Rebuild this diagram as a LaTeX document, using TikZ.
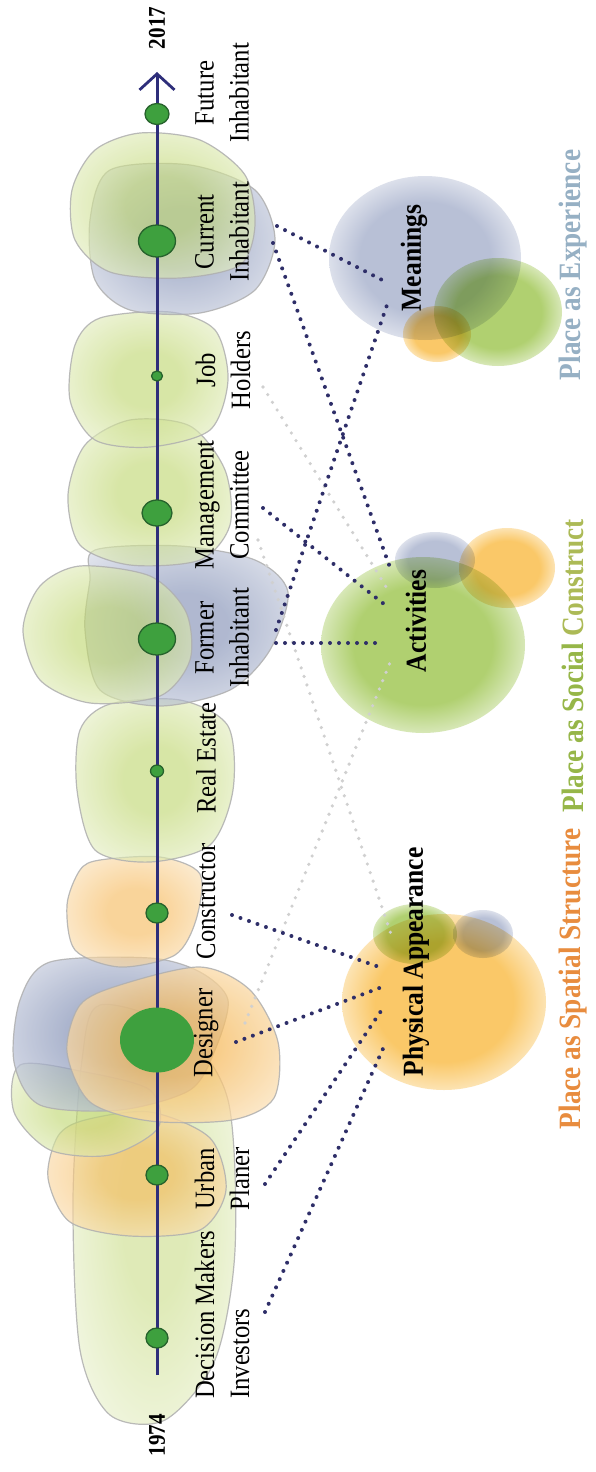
\documentclass[tikz,border=0pt]{standalone}
\usepackage{fontspec}
\setmainfont{Liberation Serif}[FakeStretch=0.88]
\usetikzlibrary{shapes.geometric,arrows.meta}

\definecolor{navy}{RGB}{46,46,122}
\definecolor{dotgreen}{RGB}{62,160,62}
\definecolor{dotedge}{RGB}{38,98,44}
\definecolor{bgreen}{RGB}{192,215,112}
\definecolor{borange}{RGB}{246,186,92}
\definecolor{bblue}{RGB}{128,142,180}
\definecolor{blobline}{RGB}{175,175,175}
\definecolor{linkblue}{RGB}{46,46,104}
\definecolor{linkgray}{RGB}{208,208,208}
\definecolor{expcol}{RGB}{150,176,196}
\definecolor{soccol}{RGB}{150,182,72}
\definecolor{soccol2}{RGB}{172,186,86}
\definecolor{spacol}{RGB}{232,140,62}
\definecolor{cgreen}{RGB}{176,208,112}
\definecolor{corange}{RGB}{250,200,104}
\definecolor{cblue}{RGB}{184,192,214}

% fills of the outlined blobs along the timeline (rim of the path is near 34bp)
\pgfdeclareradialshading{greenblob}{\pgfpointorigin}{color(0bp)=(bgreen); color(10bp)=(bgreen); color(33bp)=(bgreen!30!white); color(50bp)=(bgreen!30!white)}
\pgfdeclareradialshading{orangeblob}{\pgfpointorigin}{color(0bp)=(borange); color(10bp)=(borange); color(33bp)=(borange!35!white); color(50bp)=(borange!35!white)}
\pgfdeclareradialshading{blueblob}{\pgfpointorigin}{color(0bp)=(bblue); color(10bp)=(bblue); color(33bp)=(bblue!35!white); color(50bp)=(bblue!35!white)}

% blurred clouds: flat core fading to white before the rim
\pgfdeclareradialshading{cloudgreen}{\pgfpointorigin}{color(0bp)=(cgreen); color(17bp)=(cgreen); color(25bp)=(cgreen!50!white); color(31bp)=(white); color(50bp)=(white)}
\pgfdeclareradialshading{cloudorange}{\pgfpointorigin}{color(0bp)=(corange); color(17bp)=(corange); color(25bp)=(corange!50!white); color(31bp)=(white); color(50bp)=(white)}
\pgfdeclareradialshading{cloudblue}{\pgfpointorigin}{color(0bp)=(cblue); color(17bp)=(cblue); color(25bp)=(cblue!50!white); color(31bp)=(white); color(50bp)=(white)}

\begin{document}
\begin{tikzpicture}[x=1pt,y=-1pt,
  blob/.style={shade, shading=#1, draw=blobline, line width=1.2pt, fill opacity=0.62, draw opacity=0.85},
  cloud/.style={shade, shading=#1, blend mode=multiply},
  tdot/.style={ellipse, fill=dotgreen, draw=dotedge, line width=1.3pt, inner sep=0pt},
  who/.style={rotate=90, font=\fontsize{28}{35}\selectfont, align=center, inner sep=0pt},
  concept/.style={rotate=90, font=\fontsize{29}{35}\selectfont\bfseries, inner sep=0pt},
  category/.style={rotate=90, font=\fontsize{31}{36}\selectfont\bfseries, inner sep=0pt},
  year/.style={rotate=90, font=\fontsize{24}{28}\selectfont\bfseries, inner sep=0pt},
  link/.style={linkblue, line width=4pt, line cap=round, dash pattern=on 0pt off 9pt},
  faint/.style={linkgray, line width=3.6pt, line cap=round, dash pattern=on 0pt off 9pt}]

\useasboundingbox (0,0) rectangle (596,1472);
\fill[white] (0,0) rectangle (596,1472);

% ---- outlined blobs, back to front ----
\path[blob=greenblob, fill opacity=0.5] plot[smooth cycle] coordinates {(100,1005) (180,1030) (228,1100) (235,1250) (215,1360) (165,1420) (110,1415) (80,1350) (73,1200) (82,1060)};
\path[blob=orangeblob] plot[smooth cycle] coordinates {(85,1120) (150,1112) (210,1138) (226,1190) (200,1230) (130,1236) (70,1222) (48,1178) (58,1136)};
\path[blob=greenblob] plot[smooth cycle] coordinates {(20,1065) (85,1072) (150,1090) (158,1128) (110,1155) (50,1150) (14,1112)};
\path[blob=blueblob, fill opacity=0.7] plot[smooth cycle] coordinates {(50,962) (150,958) (200,972) (228,1000) (215,1050) (190,1090) (120,1110) (40,1105) (14,1062) (20,1000)};
\path[blob=orangeblob, fill opacity=0.72] plot[smooth cycle] coordinates {(120,985) (200,967) (250,990) (278,1042) (274,1098) (232,1120) (150,1121) (90,1102) (67,1052) (80,1005)};
\path[blob=orangeblob] plot[smooth cycle] coordinates {(100,860) (160,857) (200,874) (196,920) (175,955) (120,967) (75,950) (67,905) (80,870)};
\path[blob=greenblob] plot[smooth cycle] coordinates {(110,704) (180,700) (228,726) (233,790) (210,845) (150,862) (95,850) (77,790) (80,730)};
\path[blob=blueblob] plot[smooth cycle] coordinates {(95,550) (180,546) (255,560) (288,592) (270,650) (230,690) (160,706) (100,690) (85,630) (90,580)};
\path[blob=greenblob] plot[smooth cycle] coordinates {(80,566) (150,576) (186,612) (190,660) (160,696) (90,703) (40,680) (23,630) (40,586)};
\path[blob=greenblob] plot[smooth cycle] coordinates {(130,420) (190,426) (225,470) (230,525) (200,560) (130,565) (80,545) (68,495) (85,445)};
\path[blob=greenblob] plot[smooth cycle] coordinates {(100,318) (170,312) (215,330) (228,380) (210,430) (150,447) (95,440) (70,400) (75,345)};
\path[blob=blueblob] plot[smooth cycle] coordinates {(110,170) (190,165) (255,190) (275,240) (255,290) (200,313) (130,310) (95,280) (90,220)};
\path[blob=greenblob] plot[smooth cycle] coordinates {(140,133) (200,140) (245,175) (255,225) (240,265) (180,278) (110,272) (75,240) (72,190) (95,150)};

% ---- blurred clouds behind the three aspects ----
\path[cloud=cloudblue] (425,258) ellipse [x radius=96pt, y radius=82pt];
\path[cloud=cloudgreen] (498,312) ellipse [x radius=64pt, y radius=54pt];
\path[cloud=cloudorange] (437,334) ellipse [x radius=34pt, y radius=28pt];

\path[cloud=cloudgreen] (423,645) ellipse [x radius=102pt, y radius=88pt];
\path[cloud=cloudblue] (435,560) ellipse [x radius=40pt, y radius=28pt];
\path[cloud=cloudorange] (507,568) ellipse [x radius=48pt, y radius=40pt];

\path[cloud=cloudorange] (444,1002) ellipse [x radius=102pt, y radius=88pt];
\path[cloud=cloudgreen] (415,934) ellipse [x radius=42pt, y radius=30pt];
\path[cloud=cloudblue] (483,934) ellipse [x radius=30pt, y radius=24pt];

% ---- timeline ----
\coordinate (tstart) at (157,1375);
\coordinate (tend) at (157,72);
\draw[navy, line width=3pt, -{Straight Barb[length=16pt, width=35pt, line width=2.8pt]}] (tstart) -- (tend);

\node[tdot, minimum width=24pt, minimum height=21pt] (dfut) at (157,114) {};
\node[tdot, minimum width=37pt, minimum height=32pt] (dcur) at (157,241) {};
\node[tdot, minimum width=11pt, minimum height=10pt] (djob) at (157,376) {};
\node[tdot, minimum width=30pt, minimum height=26pt] (dman) at (157,513) {};
\node[tdot, minimum width=37pt, minimum height=32pt] (dfor) at (157,639) {};
\node[tdot, minimum width=13pt, minimum height=12pt] (drea) at (157,771) {};
\node[tdot, minimum width=22pt, minimum height=20pt] (dcon) at (157,913) {};
\node[ellipse, fill=dotgreen, inner sep=0pt, minimum width=74pt, minimum height=65pt] (ddes) at (157,1040) {};
\node[tdot, minimum width=22pt, minimum height=20pt] (durb) at (157,1175) {};
\node[tdot, minimum width=22pt, minimum height=20pt] (ddec) at (157,1338) {};

\node[year] (y2017) at (157,28) {2017};
\node[year] (y1974) at (157,1435) {1974};

% ---- actors ----
\node[who] (lfut) at (222,93) {Future\\Inhabitant};
\node[who] (lcur) at (222,232) {Current\\Inhabitant};
\node[who] (ljob) at (223,370) {Job\\Holders};
\node[who] (lman) at (222,505) {Management\\Committee};
\node[who] (lfor) at (222,638) {Former\\Inhabitant};
\node[who] (lrea) at (206,758) {Real Estate};
\node[who] (lcon) at (206,901) {Constructor};
\node[who] (ldes) at (206,1033) {Designer};
\node[who] (lurb) at (222,1179) {Urban\\Planer};
\node[who, align=left, anchor=west] (ldec) at (222,1399) {Decision Makers\\Investors};

% ---- aspects ----
\node[concept] (mean) at (414,258) {Meanings};
\node[concept] (acti) at (416,621) {Activities};
\node[concept] (phys) at (416,962) {Physical Appearance};

\node[category, text=expcol] (cexp) at (573,265) {Place as Experience};
\node[category, text=soccol] (csoc) at (573,666) {Place as Social \textcolor{soccol2}{Construct}};
\node[category, text=spacol] (cspa) at (573,979) {Place as Spatial Structure};

% ---- link end points ----
\coordinate (curA) at (277,226);
\coordinate (curB) at (273,243);
\coordinate (jobA) at (263,387);
\coordinate (manA) at (263,508);
\coordinate (manB) at (258,540);
\coordinate (forA) at (276,630);
\coordinate (forB) at (276,643);
\coordinate (conA) at (232,915);
\coordinate (desA) at (236,1042);
\coordinate (desB) at (245,1023);
\coordinate (urbA) at (265,1184);
\coordinate (decA) at (265,1312);

\coordinate (meanA) at (388,283);
\coordinate (meanB) at (388,302);
\coordinate (actA) at (392,573);
\coordinate (actB) at (388,590);
\coordinate (actC) at (389,608);
\coordinate (actD) at (382,643);
\coordinate (actE) at (391,660);
\coordinate (physA) at (382,968);
\coordinate (physB) at (382,987);
\coordinate (physC) at (383,1008);
\coordinate (physD) at (386,1042);
\coordinate (physE) at (393,940);

% faint links
\draw[faint] (jobA) -- (actB);
\draw[faint] (manB) -- (physE);
\draw[faint] (desB) -- (actE);

% strong links
\draw[link] (curA) -- (meanA);
\draw[link] (curB) -- (actA);
\draw[link] (forA) -- (meanB);
\draw[link] (forB) -- (actD);
\draw[link] (manA) -- (actC);
\draw[link] (conA) -- (physA);
\draw[link] (desA) -- (physB);
\draw[link] (urbA) -- (physC);
\draw[link] (decA) -- (physD);

\end{tikzpicture}
\end{document}
